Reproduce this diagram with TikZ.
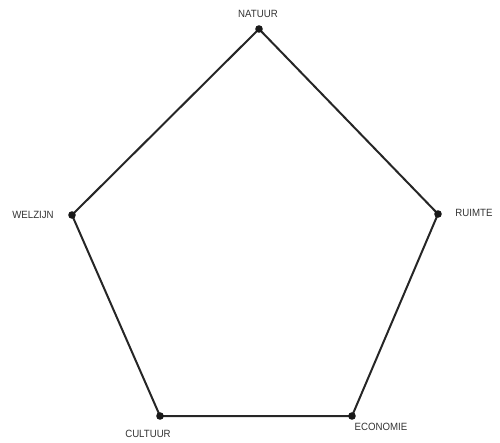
\documentclass[tikz,border=0pt]{standalone}
\usepackage{fontspec}
\setmainfont{Liberation Sans}
\usepackage{tikz}
\usetikzlibrary{calc}

\begin{document}
\begin{tikzpicture}[x=1pt,y=-1pt]
        % five vertices of the pentagon, image pixels (y down)
        \useasboundingbox (0,0) rectangle (500,442);

        \coordinate (N) at (259,29);
        \coordinate (R) at (438,214);
        \coordinate (E) at (352,416);
        \coordinate (C) at (160,416);
        \coordinate (W) at (72,215);

        \draw[line width=2pt,black!85] (N) -- (R) -- (E) -- (C) -- (W) -- cycle;

        \foreach \p in {N,R,E,C,W}
            \fill[black!90] (\p) circle (3.8);

        \tikzset{lbl/.style={font=\fontsize{10.5}{12}\selectfont,text=black!80,inner sep=0pt,xscale=0.92}}
        \node[lbl] (natuur) at (258,14) {NATUUR};
        \node[lbl] (ruimte) at (474,213) {RUIMTE};
        \node[lbl] (economie) at (381,427) {ECONOMIE};
        \node[lbl] (cultuur) at (148,434) {CULTUUR};
        \node[lbl] (welzijn) at (33,215) {WELZIJN};
    \end{tikzpicture}
\end{document}
